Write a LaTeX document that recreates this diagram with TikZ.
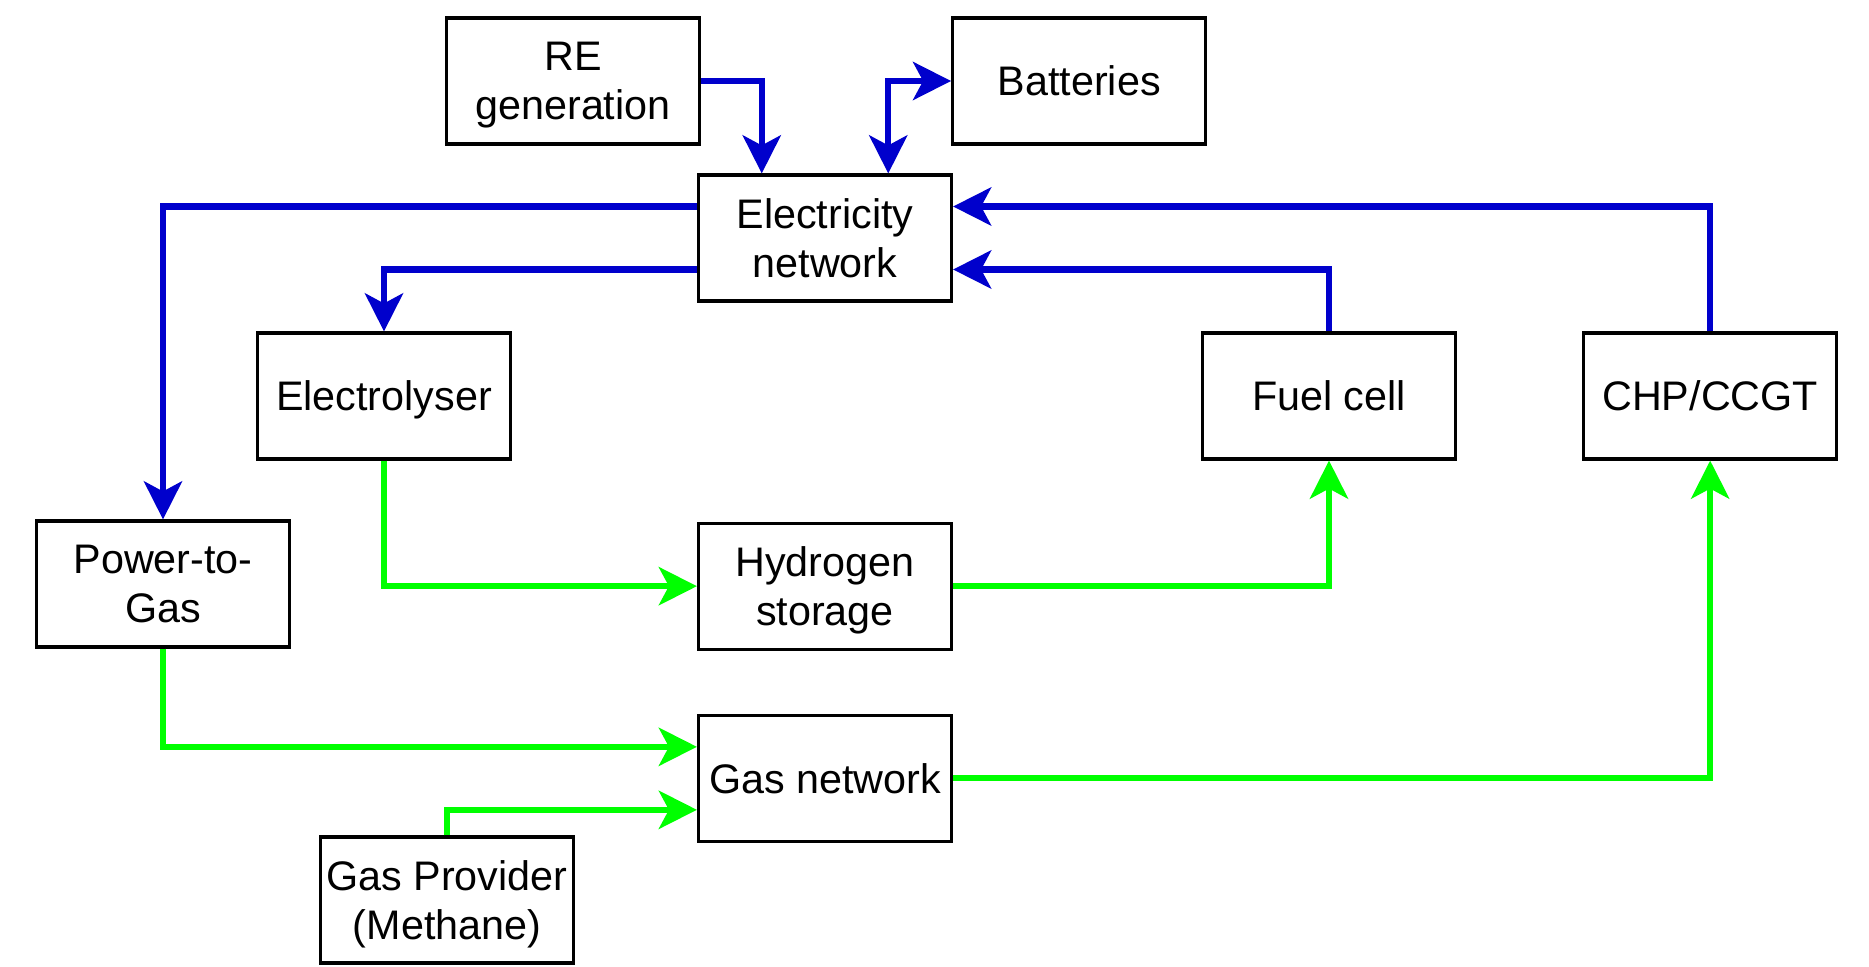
\documentclass[tikz,border=0pt]{standalone}
\usepackage{fontspec}
\setmainfont{Liberation Sans}
\usetikzlibrary{arrows.meta,positioning}
\definecolor{elecblue}{HTML}{0000CC}
\definecolor{gasgreen}{HTML}{00FF00}

\tikzset{
  unitbox/.style={draw=black, line width=1.8pt, fill=white,
        minimum width=5.06cm, minimum height=2.52cm, inner sep=0pt,
        text depth=0pt, align=center, font=\fontsize{23.5}{28}\selectfont},
  flowtip/.tip={Stealth[length=0.76cm,width=0.76cm,inset=0.2cm]},
  elecflow/.style={draw=elecblue, line width=3.6pt, -flowtip},
  elecboth/.style={draw=elecblue, line width=3.6pt, flowtip-flowtip},
  gasflow/.style={draw=gasgreen, line width=3.6pt, -flowtip}
}

\begin{document}
\begin{tikzpicture}

  \useasboundingbox (0,0) rectangle (37.38,-19.34);

  %% Electricity side
  \node[unitbox] (elec) at (16.5,-4.76) {Electricity\\network};
  \node[unitbox] (re) at (11.46,-1.62) {RE\\generation};
  \node[unitbox, right=5cm of re] (bat) {Batteries};

  %% Conversion units
  \node[unitbox] (ely) at (7.68,-7.92) {Electrolyser};
  \node[unitbox] (fc) at (26.58,-7.92) {Fuel cell};
  \node[unitbox, right=2.5cm of fc] (chp) {CHP/CCGT};
  \node[unitbox] (p2g) at (3.26,-11.68) {Power-to-\\Gas};

  %% Gas side
  \node[unitbox, below=4.38cm of elec] (h2) {Hydrogen\\storage};
  \node[unitbox, below=1.26cm of h2] (gas) {Gas network};
  \node[unitbox] (prov) at (8.94,-18.0) {Gas Provider\\(Methane)};

  %% Electricity flows
  \draw[elecflow] (re.east) -| ([xshift=-1.265cm]elec.north);
  \draw[elecboth] ([xshift=1.265cm]elec.north) |- (bat.west);
  \draw[elecflow] ([yshift=0.63cm]elec.west) -| (p2g.north);
  \draw[elecflow] ([yshift=-0.63cm]elec.west) -| (ely.north);
  \draw[elecflow] (fc.north) |- ([yshift=-0.63cm]elec.east);
  \draw[elecflow] (chp.north) |- ([yshift=0.63cm]elec.east);

  %% Gas flows
  \draw[gasflow] (ely.south) |- (h2.west);
  \draw[gasflow] (h2.east) -| (fc.south);
  \draw[gasflow] (p2g.south) |- ([yshift=0.63cm]gas.west);
  \draw[gasflow] (prov.north) |- ([yshift=-0.63cm]gas.west);
  \draw[gasflow] (gas.east) -| (chp.south);

\end{tikzpicture}
\end{document}
